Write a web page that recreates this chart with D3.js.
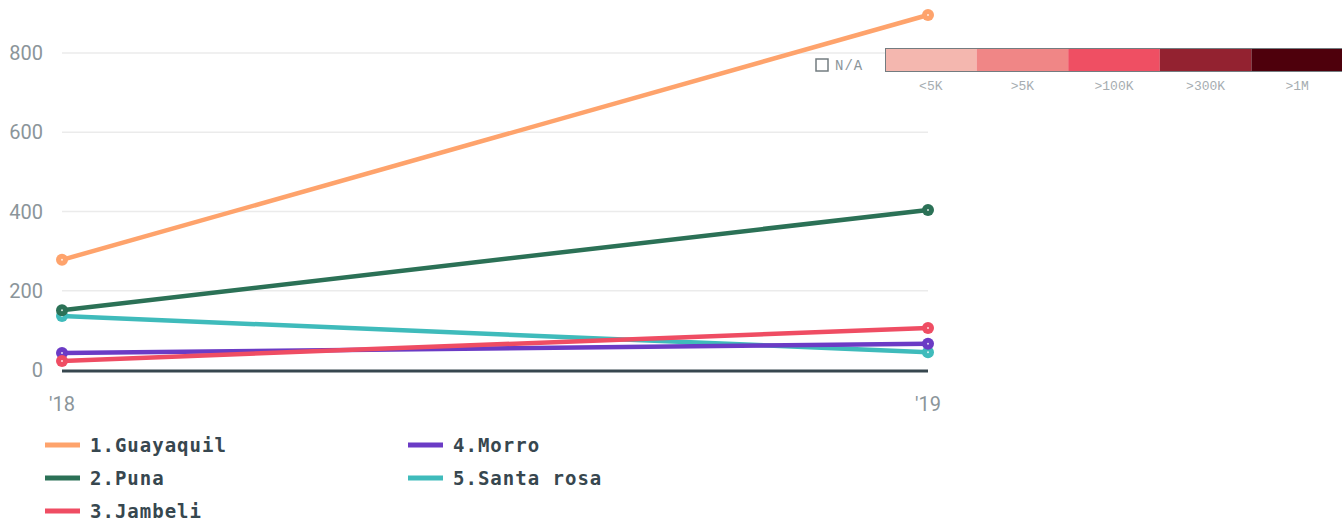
<!DOCTYPE html>
<html>
<head>
<meta charset="utf-8">
<script src="https://cdn.jsdelivr.net/npm/d3@7"></script>
<style>
  body { margin: 0; background: #fff; }
  svg { display: block; }
</style>
</head>
<body>
<div id="app"></div>
<script>
const years = ["'18", "'19"];
const names = ['1.Guayaquil', '2.Puna', '3.Jambeli', '4.Morro', '5.Santa rosa'];
const colors = ['#fea36c', '#2b7156', '#ef4d63', '#6b3bc5', '#3fbbbb'];
const guayaquil = [278, 896];
const puna = [151, 404];
const jambeli = [23, 106];
const morro = [43, 66];
const santaRosa = [136, 45];
const yTicks = [0, 200, 400, 600, 800];
const scaleLabels = ['<5K', '>5K', '>100K', '>300K', '>1M'];
const scaleColors = ['#f4b7af', '#f08686', '#ef4f63', '#932230', '#4e000c'];

const series = [guayaquil, puna, jambeli, morro, santaRosa].map((v, i) => ({
  name: names[i],
  color: colors[i],
  values: v,
}));

const width = 1342;
const height = 528;

const svg = d3
  .select('#app')
  .append('svg')
  .attr('width', width)
  .attr('height', height);

const x = d3.scalePoint().domain(years).range([62, 928]);
const y = d3.scaleLinear().domain([0, 800]).range([370, 53]);

// grid lines
svg
  .append('g')
  .selectAll('line')
  .data(yTicks.filter((t) => t > 0))
  .enter()
  .append('line')
  .attr('x1', 62)
  .attr('x2', 928)
  .attr('y1', (d) => y(d))
  .attr('y2', (d) => y(d))
  .attr('stroke', '#ebebeb')
  .attr('stroke-width', 1.5);

// y tick labels
svg
  .append('g')
  .selectAll('text')
  .data(yTicks)
  .enter()
  .append('text')
  .attr('x', 43)
  .attr('y', (d) => y(d))
  .attr('dy', '0.35em')
  .attr('text-anchor', 'end')
  .attr('font-family', 'Roboto, sans-serif')
  .attr('font-size', 20)
  .attr('fill', '#8b959a')
  .text((d) => d);

// x labels
svg
  .append('g')
  .selectAll('text')
  .data(years)
  .enter()
  .append('text')
  .attr('x', (d) => x(d))
  .attr('y', 411)
  .attr('text-anchor', 'middle')
  .attr('font-family', 'Roboto, sans-serif')
  .attr('font-size', 20)
  .attr('fill', '#8b959a')
  .text((d) => d);

// zero line
svg
  .append('line')
  .attr('x1', 62)
  .attr('x2', 928)
  .attr('y1', y(0) + 1)
  .attr('y2', y(0) + 1)
  .attr('stroke', '#37474f')
  .attr('stroke-width', 3);

const line = d3
  .line()
  .x((d, i) => x(years[i]))
  .y((d) => y(d));

const g = svg.append('g');
series
  .slice()
  .reverse()
  .forEach((s) => {
    g.append('path')
      .attr('d', line(s.values))
      .attr('fill', 'none')
      .attr('stroke', s.color)
      .attr('stroke-width', 4.5);
  });
series
  .slice()
  .reverse()
  .forEach((s) => {
    s.values.forEach((v, i) => {
      g.append('circle')
        .attr('cx', x(years[i]))
        .attr('cy', y(v))
        .attr('r', 6)
        .attr('fill', s.color);
      g.append('circle')
        .attr('cx', x(years[i]))
        .attr('cy', y(v))
        .attr('r', 1)
        .attr('fill', '#fff')
        .attr('opacity', 0.8);
    });
  });

// color scale legend
const legendX = d3.scaleBand().domain(scaleLabels).range([885, 1343]);
const cl = svg.append('g');
cl.selectAll('rect')
  .data(scaleLabels)
  .enter()
  .append('rect')
  .attr('x', (d) => legendX(d))
  .attr('y', 48)
  .attr('width', legendX.bandwidth())
  .attr('height', 24)
  .attr('fill', (d, i) => scaleColors[i]);
cl.append('rect')
  .attr('x', 885.5)
  .attr('y', 48.5)
  .attr('width', 460)
  .attr('height', 23)
  .attr('fill', 'none')
  .attr('stroke', '#737c80')
  .attr('stroke-width', 1);
cl.selectAll('text')
  .data(scaleLabels)
  .enter()
  .append('text')
  .attr('x', (d) => legendX(d) + legendX.bandwidth() / 2)
  .attr('y', 90)
  .attr('text-anchor', 'middle')
  .attr('font-family', "'Liberation Mono', monospace")
  .attr('font-size', 13)
  .attr('fill', '#a6adb1')
  .text((d) => d);
cl.append('rect')
  .attr('x', 816)
  .attr('y', 59)
  .attr('width', 12)
  .attr('height', 12)
  .attr('fill', 'none')
  .attr('stroke', '#737c80')
  .attr('stroke-width', 1.5);
cl.append('text')
  .attr('x', 835)
  .attr('y', 70)
  .attr('font-family', "'Liberation Mono', monospace")
  .attr('font-size', 14)
  .attr('letter-spacing', 1)
  .attr('fill', '#8b959a')
  .text('N/A');

// series legend
const leg = svg
  .append('g')
  .selectAll('g')
  .data(series)
  .enter()
  .append('g')
  .attr('transform', (d, i) => {
    const col = Math.floor(i / 3);
    const row = i % 3;
    return 'translate(' + (45 + col * 363) + ',' + (445 + row * 33) + ')';
  });
leg.append('line')
  .attr('x1', 0)
  .attr('x2', 35)
  .attr('stroke', (d) => d.color)
  .attr('stroke-width', 5);
leg.append('text')
  .attr('x', 45)
  .attr('dy', '0.35em')
  .attr('font-family', "'DejaVu Sans Mono', monospace")
  .attr('font-weight', 'bold')
  .attr('font-size', 19)
  .attr('letter-spacing', 1)
  .attr('fill', '#37474f')
  .text((d) => d.name);
</script>
</body>
</html>
